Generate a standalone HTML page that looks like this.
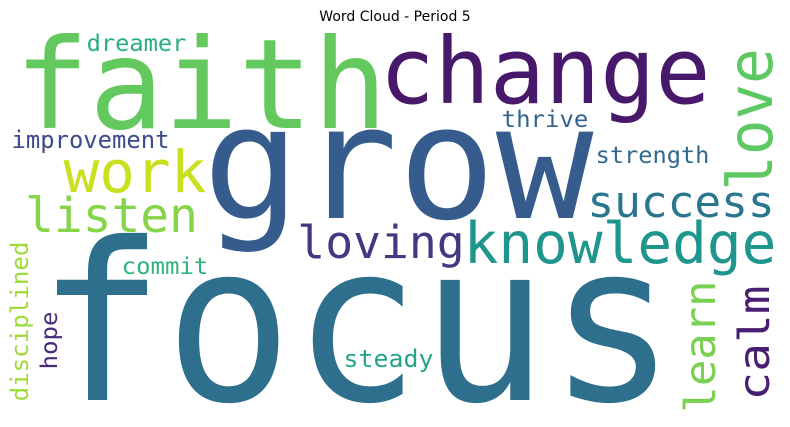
<!DOCTYPE html>
<html><head><meta charset="utf-8"><style>
html,body{margin:0;padding:0;background:#fff;width:790px;height:427px;overflow:hidden;}
svg{display:block;}
</style></head><body>
<svg id="cloud" width="790" height="427" viewBox="0 0 790 427" xmlns="http://www.w3.org/2000/svg">
<rect width="790" height="427" fill="#fff"/>
<text x="395" y="21" text-anchor="middle" font-family="DejaVu Sans, Liberation Sans, sans-serif" font-size="14" fill="#000">Word Cloud - Period 5</text>
<g id="words"></g>
</svg>
<script>
const words = ["faith","grow","focus","change","love","work","listen","improvement","dreamer","commit","disciplined","hope","steady","thrive","strength","success","knowledge","loving","learn","calm"];
const sizes = [125,158,220,92,62,58,48,24,23,23,24,23,24,23,23,44,57,45,43,43];
const colors = ["#63c95e","#365c8d","#2e6f8e","#48186a","#5ec962","#c8e020","#86d549","#3e4a89","#29af7f","#2fb47c","#9fda3a","#472c7a","#22a785","#33638d","#30698e","#2a768e","#1f968b","#453781","#7ad151","#481f70"];
// layout: [anchorX, anchorY, extent, vertical]
const layout = [
[22,128,358,0],[212,218,372,0],[50,400,613,0],[385,103,320,0],
[772,187,135,1],[67,192,136,0],[28,232,167,0],[13,148,155,0],
[88,51,97,0],[123,274,84,0],[28,400,157,1],[57,368,55,1],
[345,367,87,0],[503,127,84,0],[597,163,111,0],[590,217,182,0],
[467,263,306,0],[300,258,162,0],[715,410,127,1],[769,398,110,1]
];
const g = document.getElementById('words');
const NS = "http://www.w3.org/2000/svg";
words.forEach((w,i)=>{
  const s = sizes[i], L = layout[i];
  const t = document.createElementNS(NS,'text');
  
  
  t.setAttribute('font-family', 'DejaVu Sans Mono, Liberation Mono, monospace');
  t.setAttribute('font-size', s);
  t.setAttribute('fill', colors[i]);
  const pad = s*0.06;
  t.setAttribute('textLength', L[2] + 2*pad);
  t.setAttribute('lengthAdjust', 'spacingAndGlyphs');
  if (L[3]) {
    t.setAttribute('transform', 'translate(' + L[0] + ',' + L[1] + ') rotate(-90)');
    t.setAttribute('x', -pad);
    t.setAttribute('y', 0);
  } else {
    t.setAttribute('x', L[0] - pad);
    t.setAttribute('y', L[1]);
  }
  t.textContent = w;
  g.appendChild(t);
});
</script>
</body></html>
